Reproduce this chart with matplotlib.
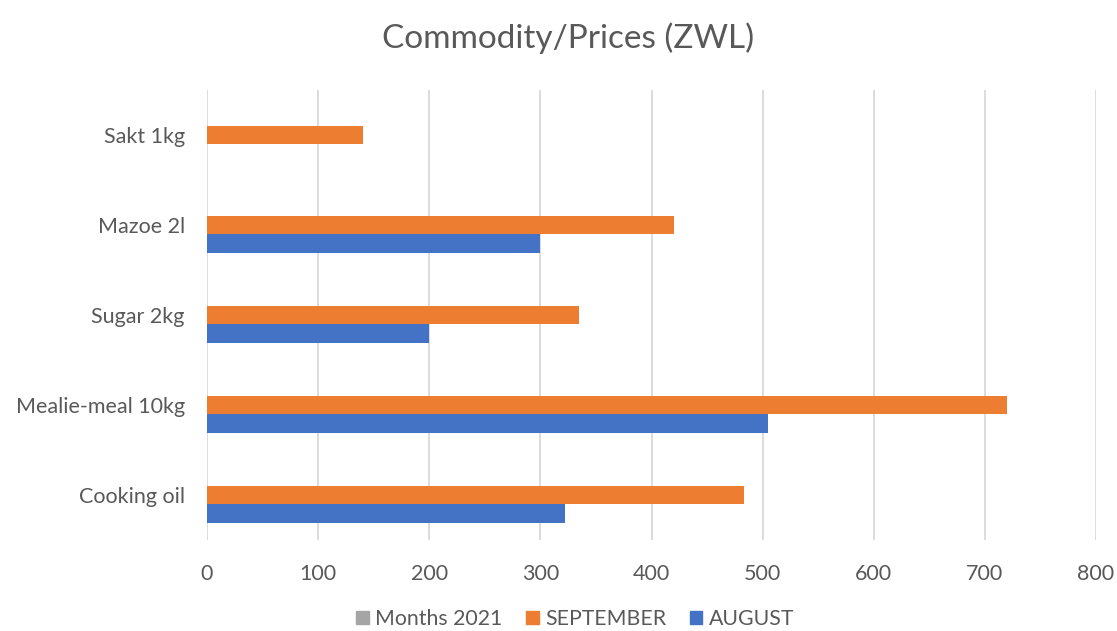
import numpy as np
import matplotlib.pyplot as plt
from matplotlib.patches import Patch

categories = ["Cooking oil", "Mealie-meal 10kg", "Sugar 2kg", "Mazoe 2l", "Sakt 1kg"]
august = [322, 505, 200, 300, 0]
september = [483, 720, 335, 420, 140]
months_2021 = [0, 0, 0, 0, 0]

plt.rcParams['font.family'] = ['Lato', 'DejaVu Sans']

fig = plt.figure(figsize=(11.17, 6.31), dpi=100)
ax = fig.add_axes([207/1117, 1 - 540/631, (1096-207)/1117, (540-90)/631])

y = np.arange(len(categories))
h = 0.207
ax.barh(y - h, august, height=h, color='#4472C4', zorder=3)
ax.barh(y, september, height=h, color='#ED7D31', zorder=3)
ax.barh(y + h, months_2021, height=h, color='#A5A5A5', zorder=3)

ax.set_xlim(0, 800)
ax.set_ylim(-0.5, 4.5)
ax.set_xticks(range(0, 801, 100))
ax.set_yticks(y)
ax.set_yticklabels(categories)
ax.tick_params(axis='both', length=0, labelsize=15.5, colors='#595959')
ax.tick_params(axis='x', pad=17)
ax.tick_params(axis='y', pad=16)
ax.grid(axis='x', color='#D9D9D9', linewidth=1.3, zorder=0)
for s in ax.spines.values():
    s.set_visible(False)

fig.text(0.5085, 1 - 38/631, "Commodity/Prices (ZWL)", ha='center', va='center',
         fontsize=24, color='#595959')

handles = [Patch(color='#A5A5A5'), Patch(color='#ED7D31'), Patch(color='#4472C4')]
fig.legend(handles, ["Months 2021", "SEPTEMBER", "AUGUST"], loc='center',
           bbox_to_anchor=(0.515, 1 - 619/631), ncol=3, frameon=False,
           fontsize=15.3, labelcolor='#595959', handlelength=0.6, handleheight=0.6,
           handletextpad=0.3, columnspacing=1.1, borderpad=0.1)

fig.savefig("out.png", dpi=100)
